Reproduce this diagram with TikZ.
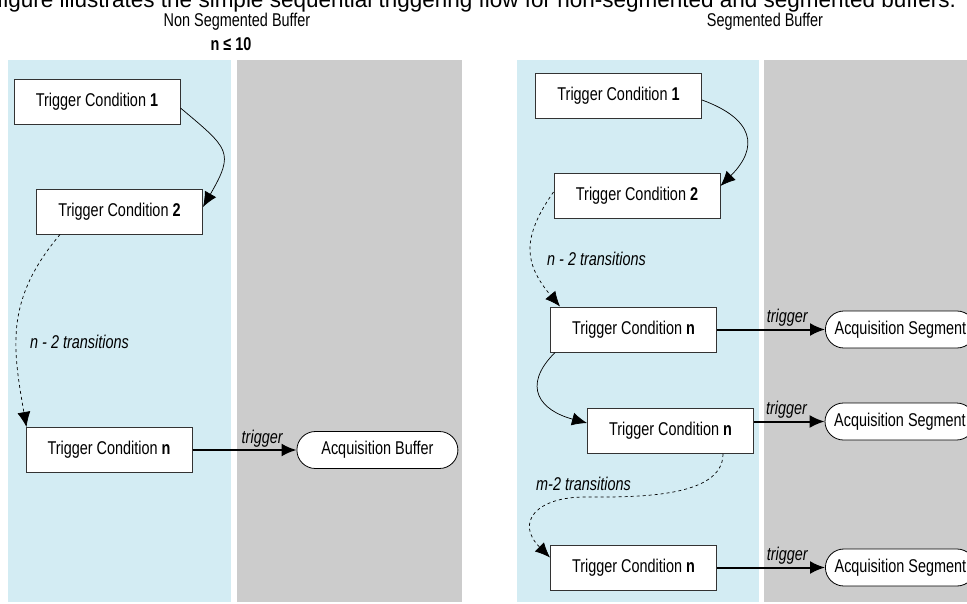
\documentclass[tikz,border=0pt]{standalone}
\usepackage{fontspec}
\setmainfont[FakeStretch=0.78]{Liberation Sans}
\newfontfamily\notefont{Liberation Sans}
\usetikzlibrary{positioning,shapes.misc,arrows.meta}

\definecolor{laneblue}{RGB}{211,236,243}
\definecolor{lanegray}{RGB}{204,204,204}

\begin{document}
\begin{tikzpicture}[
  x=1pt, y=1pt,
  every node/.style={font=\fontsize{18.5}{20}\selectfont},
  cond/.style={rectangle,draw=black!80,line width=1pt,fill=white,minimum width=166pt,minimum height=45pt,inner sep=0pt},
  acq/.style={rounded rectangle,draw,line width=0.8pt,fill=white,minimum width=161pt,minimum height=37pt,inner sep=0pt},
  note/.style={font=\fontsize{18.5}{20}\selectfont\itshape,inner sep=0pt},
  trig/.style={->,line width=2pt},
  flow/.style={->,line width=0.7pt},
  >={Latex[length=15pt,width=13pt]}
]
\useasboundingbox (0,0) rectangle (967,-603);
\clip (0,0) rectangle (967,-603);

% LANES
\fill[laneblue] (8,-60) rectangle (231,-602);
\fill[lanegray] (237,-60) rectangle (462,-602);
\fill[laneblue] (517,-60) rectangle (759,-602);
\fill[lanegray] (764,-60) rectangle (967,-602);

% HEADINGS
\node[anchor=base west,inner sep=0pt,font=\notefont\fontsize{22.5}{24}\selectfont] (caption) at (-3,-7)
  {figure illustrates the simple sequential triggering flow for non-segmented and segmented buffers.};
\node[anchor=base] (titleL) at (237,-26.5) {Non Segmented Buffer};
\node[anchor=base] (limitL) at (231,-50) {\textbf{n ≤ 10}};
\node[anchor=base] (titleR) at (765,-26.5) {Segmented Buffer};

% NON SEGMENTED
\node[cond] (c1L) at (97,-101.5) {Trigger Condition \textbf{1}};
\node[cond] (c2L) at (119.5,-211.5) {Trigger Condition \textbf{2}};
\node[cond] (cnL) at (109,-450) {Trigger Condition \textbf{n}};
\node[acq] (bufL) [right=104pt of cnL] {Acquisition Buffer};

\draw[flow] ([yshift=-6.5pt]c1L.east) to[out=-40,in=60,looseness=1.6] ([yshift=4.5pt]c2L.east);
\draw[flow,dashed] ([xshift=-59.5pt]c2L.south) to[out=230,in=100,looseness=1.1] ([xshift=1pt]cnL.north west);
\node[note,anchor=west] (transL) at (30,-342) {n - 2 transitions};
\draw[trig] (cnL) -- node[note,above=2pt,pos=0.67] (trgL) {trigger} (bufL);

% SEGMENTED
\node[cond] (c1R) at (618.5,-95.5) {Trigger Condition \textbf{1}};
\node[cond] (c2R) at (637,-195.5) {Trigger Condition \textbf{2}};
\node[cond] (cnR) at (633.5,-329.5) {Trigger Condition \textbf{n}};
\node[cond] (cnnR) at (670.5,-431) {Trigger Condition \textbf{n}};
\node[cond] (cnnnR) at (633.5,-567.5) {Trigger Condition \textbf{n}};

\node[acq,minimum width=150pt] (segA) [right=108pt of cnR] {Acquisition Segment};
\node[acq,minimum width=150pt] (segB) at (900,-421.5) {Acquisition Segment};
\node[acq,minimum width=150pt] (segC) [right=108pt of cnnnR] {Acquisition Segment};

\draw[flow] ([yshift=-4.5pt]c1R.east) to[out=-20,in=45,looseness=1.6] ([yshift=9.5pt]c2R.east);
\draw[flow,dashed] ([yshift=3.5pt]c2R.west) to[out=235,in=130,looseness=1.25] ([xshift=10pt]cnR.north west);
\node[note,anchor=west] (transR) at (547,-259) {n - 2 transitions};
\draw[flow] ([xshift=5pt]cnR.south west) to[out=225,in=165,looseness=1.6] ([yshift=8pt]cnnR.west);

\coordinate (mbend) at (585,-497);
\draw[flow,dashed] ([xshift=52.5pt]cnnR.south) to[out=-90,in=0,looseness=0.8] (mbend)
  to[out=180,in=135,looseness=1.8] ([yshift=10pt]cnnnR.west);
\node[note,anchor=west] (transM) at (536,-484) {m-2 transitions};

\draw[trig] (cnR) -- node[note,above=2pt,pos=0.65] (trgA) {trigger} (segA);
\draw[trig] (cnnR.east |- segB.west) -- node[note,above=2pt,pos=0.46] (trgB) {trigger} (segB.west);
\draw[trig] (cnnnR) -- node[note,above=2pt,pos=0.65] (trgC) {trigger} (segC);

\end{tikzpicture}
\end{document}
